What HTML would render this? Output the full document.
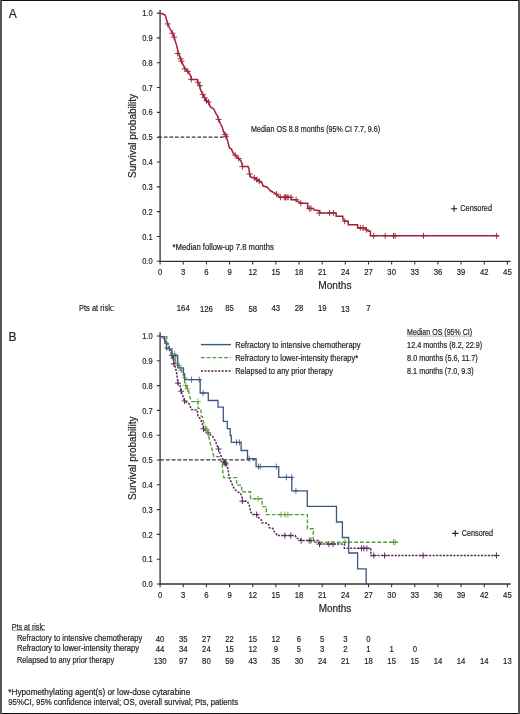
<!DOCTYPE html>
<html><head><meta charset="utf-8"><style>
html,body{margin:0;padding:0;background:#fff;}
svg{display:block;filter:blur(0.3px);}
text{font-family:"Liberation Sans",sans-serif;fill:#231f20;stroke:#231f20;stroke-width:0.2px;}
</style></head><body>
<svg width="520" height="714" viewBox="0 0 520 714">
<rect x="0" y="0" width="520" height="714" fill="#fff"/>

<text x="8.80" y="17.90" font-size="12">A</text>
<path d="M160.1 10V261.3" stroke="#4a4a4a" stroke-width="1.5" fill="none"/>
<path d="M159.3 261.3H510.7" stroke="#333" stroke-width="1.3" fill="none"/>
<path d="M156.8 261.30H160M156.8 236.48H160M156.8 211.66H160M156.8 186.84H160M156.8 162.02H160M156.8 137.20H160M156.8 112.38H160M156.8 87.56H160M156.8 62.74H160M156.8 37.92H160M156.8 13.10H160M160.10 261.3v3.2M183.25 261.3v3.2M206.41 261.3v3.2M229.56 261.3v3.2M252.72 261.3v3.2M275.87 261.3v3.2M299.02 261.3v3.2M322.18 261.3v3.2M345.33 261.3v3.2M368.49 261.3v3.2M391.64 261.3v3.2M414.79 261.3v3.2M437.95 261.3v3.2M461.10 261.3v3.2M484.26 261.3v3.2M507.41 261.3v3.2" stroke="#333" stroke-width="1.1" fill="none"/>
<text x="152.60" y="264.40" font-size="9" text-anchor="end" textLength="10.4" lengthAdjust="spacingAndGlyphs">0.0</text>
<text x="152.60" y="239.58" font-size="9" text-anchor="end" textLength="10.4" lengthAdjust="spacingAndGlyphs">0.1</text>
<text x="152.60" y="214.76" font-size="9" text-anchor="end" textLength="10.4" lengthAdjust="spacingAndGlyphs">0.2</text>
<text x="152.60" y="189.94" font-size="9" text-anchor="end" textLength="10.4" lengthAdjust="spacingAndGlyphs">0.3</text>
<text x="152.60" y="165.12" font-size="9" text-anchor="end" textLength="10.4" lengthAdjust="spacingAndGlyphs">0.4</text>
<text x="152.60" y="140.30" font-size="9" text-anchor="end" textLength="10.4" lengthAdjust="spacingAndGlyphs">0.5</text>
<text x="152.60" y="115.48" font-size="9" text-anchor="end" textLength="10.4" lengthAdjust="spacingAndGlyphs">0.6</text>
<text x="152.60" y="90.66" font-size="9" text-anchor="end" textLength="10.4" lengthAdjust="spacingAndGlyphs">0.7</text>
<text x="152.60" y="65.84" font-size="9" text-anchor="end" textLength="10.4" lengthAdjust="spacingAndGlyphs">0.8</text>
<text x="152.60" y="41.02" font-size="9" text-anchor="end" textLength="10.4" lengthAdjust="spacingAndGlyphs">0.9</text>
<text x="152.60" y="16.20" font-size="9" text-anchor="end" textLength="10.4" lengthAdjust="spacingAndGlyphs">1.0</text>
<text x="160.10" y="274.80" font-size="9" text-anchor="middle" textLength="4.3" lengthAdjust="spacingAndGlyphs">0</text>
<text x="183.25" y="274.80" font-size="9" text-anchor="middle" textLength="4.3" lengthAdjust="spacingAndGlyphs">3</text>
<text x="206.41" y="274.80" font-size="9" text-anchor="middle" textLength="4.3" lengthAdjust="spacingAndGlyphs">6</text>
<text x="229.56" y="274.80" font-size="9" text-anchor="middle" textLength="4.3" lengthAdjust="spacingAndGlyphs">9</text>
<text x="252.72" y="274.80" font-size="9" text-anchor="middle" textLength="8.6" lengthAdjust="spacingAndGlyphs">12</text>
<text x="275.87" y="274.80" font-size="9" text-anchor="middle" textLength="8.6" lengthAdjust="spacingAndGlyphs">15</text>
<text x="299.02" y="274.80" font-size="9" text-anchor="middle" textLength="8.6" lengthAdjust="spacingAndGlyphs">18</text>
<text x="322.18" y="274.80" font-size="9" text-anchor="middle" textLength="8.6" lengthAdjust="spacingAndGlyphs">21</text>
<text x="345.33" y="274.80" font-size="9" text-anchor="middle" textLength="8.6" lengthAdjust="spacingAndGlyphs">24</text>
<text x="368.49" y="274.80" font-size="9" text-anchor="middle" textLength="8.6" lengthAdjust="spacingAndGlyphs">27</text>
<text x="391.64" y="274.80" font-size="9" text-anchor="middle" textLength="8.6" lengthAdjust="spacingAndGlyphs">30</text>
<text x="414.79" y="274.80" font-size="9" text-anchor="middle" textLength="8.6" lengthAdjust="spacingAndGlyphs">33</text>
<text x="437.95" y="274.80" font-size="9" text-anchor="middle" textLength="8.6" lengthAdjust="spacingAndGlyphs">36</text>
<text x="461.10" y="274.80" font-size="9" text-anchor="middle" textLength="8.6" lengthAdjust="spacingAndGlyphs">39</text>
<text x="484.26" y="274.80" font-size="9" text-anchor="middle" textLength="8.6" lengthAdjust="spacingAndGlyphs">42</text>
<text x="507.41" y="274.80" font-size="9" text-anchor="middle" textLength="8.6" lengthAdjust="spacingAndGlyphs">45</text>
<text x="0" y="0" font-size="10" transform="translate(136.2 178) rotate(-90)" textLength="84" lengthAdjust="spacingAndGlyphs">Survival probability</text>
<text x="318.30" y="289.20" font-size="10" textLength="33.2" lengthAdjust="spacingAndGlyphs">Months</text>
<text x="79.00" y="310.70" font-size="8.6" textLength="35.0" lengthAdjust="spacingAndGlyphs">Pts at risk:</text>
<text x="183.25" y="310.60" font-size="9" text-anchor="middle" textLength="12.9" lengthAdjust="spacingAndGlyphs">164</text>
<text x="206.41" y="311.50" font-size="9" text-anchor="middle" textLength="12.9" lengthAdjust="spacingAndGlyphs">126</text>
<text x="229.56" y="310.60" font-size="9" text-anchor="middle" textLength="8.6" lengthAdjust="spacingAndGlyphs">85</text>
<text x="252.72" y="311.50" font-size="9" text-anchor="middle" textLength="8.6" lengthAdjust="spacingAndGlyphs">58</text>
<text x="275.87" y="311.00" font-size="9" text-anchor="middle" textLength="8.6" lengthAdjust="spacingAndGlyphs">43</text>
<text x="299.02" y="311.20" font-size="9" text-anchor="middle" textLength="8.6" lengthAdjust="spacingAndGlyphs">28</text>
<text x="322.18" y="311.20" font-size="9" text-anchor="middle" textLength="8.6" lengthAdjust="spacingAndGlyphs">19</text>
<text x="345.33" y="311.50" font-size="9" text-anchor="middle" textLength="8.6" lengthAdjust="spacingAndGlyphs">13</text>
<text x="368.49" y="310.60" font-size="9" text-anchor="middle" textLength="4.3" lengthAdjust="spacingAndGlyphs">7</text>
<text x="251.00" y="132.10" font-size="8.6" textLength="129.2" lengthAdjust="spacingAndGlyphs">Median OS 8.8 months (95% CI 7.7, 9.6)</text>
<text x="172.50" y="249.60" font-size="8.6" textLength="101.3" lengthAdjust="spacingAndGlyphs">*Median follow-up 7.8 months</text>
<path d="M450.9 208.7h6.4M454.1 205.6v6.2" stroke="#231f20" stroke-width="1.1" fill="none"/>
<text x="460.30" y="210.80" font-size="8.6" textLength="31.7" lengthAdjust="spacingAndGlyphs">Censored</text>
<path d="M158.2 137.2H226" stroke="#333" stroke-width="1.3" stroke-dasharray="3.7 1.9" fill="none"/>
<polyline points="160.2,13.2 162.3,13.8 164.2,14.5 165.4,15.7 166.0,17.2 166.2,18.8 166.9,21.1 167.7,23.8 170.0,28.8 172.3,32.6 174.2,37.2 175.0,40.3 176.2,44.1 177.3,48.0 177.8,51.1 179.6,55.9 180.6,58.8 181.5,61.2 183.5,65.5 184.9,68.9 187.8,71.3 189.7,74.1 191.2,77.0 191.2,79.4 197.4,79.4 197.9,82.3 199.8,85.7 200.3,89.1 202.7,94.4 204.6,97.8 206.5,100.7 208.5,102.1 210.4,106.9 213.8,108.9 215.7,113.2 217.6,116.1 218.6,119.4 220.5,123.8 222.4,127.6 223.4,131.5 225.1,134.4 226.5,136.8 228.0,142.6 229.4,147.9 231.3,148.9 233.3,153.2 235.2,155.1 238.6,158.5 241.0,160.9 242.4,164.7 242.4,166.6 248.0,166.6 249.1,169.1 249.6,174.0 251.0,177.3 254.4,177.8 256.8,179.7 259.2,181.2 262.1,183.1 263.1,186.0 266.9,186.9 268.8,188.9 270.3,190.8 273.2,192.2 276.5,194.1 278.9,196.1 279.4,197.3 291.0,197.3 291.5,199.7 296.1,199.7 296.7,200.9 298.5,201.4 300.2,203.2 307.7,203.2 307.7,208.4 313.4,208.4 314.0,210.1 319.8,210.7 319.8,213.0 336.1,213.0 336.1,216.2 342.8,216.2 342.8,218.9 345.0,221.2 348.2,221.2 348.2,224.8 357.6,224.8 357.6,227.9 365.7,227.9 366.3,229.2 368.4,231.3 370.4,231.3 370.4,235.8 499.0,235.8" fill="none" stroke="#9e2238" stroke-width="1.5" stroke-linejoin="miter"/>
<path d="M164.7 23.9h6.0M167.7 20.9v6.0M169.3 33.2h6.0M172.3 30.2v6.0M171.2 37.2h6.0M174.2 34.2v6.0M174.7 53.5h6.0M177.7 50.5v6.0M177.6 58.8h6.0M180.6 55.8v6.0M178.5 61.2h6.0M181.5 58.2v6.0M181.9 68.9h6.0M184.9 65.9v6.0M184.8 71.3h6.0M187.8 68.3v6.0M188.2 79.4h6.0M191.2 76.4v6.0M194.9 82.3h6.0M197.9 79.3v6.0M196.8 85.7h6.0M199.8 82.7v6.0M199.7 94.4h6.0M202.7 91.4v6.0M201.6 97.8h6.0M204.6 94.8v6.0M203.5 100.7h6.0M206.5 97.7v6.0M205.5 102.1h6.0M208.5 99.1v6.0M215.6 119.4h6.0M218.6 116.4v6.0M222.1 134.4h6.0M225.1 131.4v6.0M223.0 136.3h6.0M226.0 133.3v6.0M232.2 155.1h6.0M235.2 152.1v6.0M235.6 158.5h6.0M238.6 155.5v6.0M239.4 166.6h6.0M242.4 163.6v6.0M246.6 174.0h6.0M249.6 171.0v6.0M251.4 177.8h6.0M254.4 174.8v6.0M253.8 179.7h6.0M256.8 176.7v6.0M256.2 181.2h6.0M259.2 178.2v6.0M273.5 194.1h6.0M276.5 191.1v6.0M277.4 197.3h6.0M280.4 194.3v6.0M281.2 197.3h6.0M284.2 194.3v6.0M282.5 197.3h6.0M285.5 194.3v6.0M284.0 197.3h6.0M287.0 194.3v6.0M285.1 197.3h6.0M288.1 194.3v6.0M288.0 197.3h6.0M291.0 194.3v6.0M293.1 199.7h6.0M296.1 196.7v6.0M297.8 203.2h6.0M300.8 200.2v6.0M306.4 208.4h6.0M309.4 205.4v6.0M308.0 208.4h6.0M311.0 205.4v6.0M316.2 213.0h6.0M319.2 210.0v6.0M326.6 213.0h6.0M329.6 210.0v6.0M330.4 213.0h6.0M333.4 210.0v6.0M341.8 221.2h6.0M344.8 218.2v6.0M357.3 227.9h6.0M360.3 224.9v6.0M360.0 227.9h6.0M363.0 224.9v6.0M363.3 229.8h6.0M366.3 226.8v6.0M370.7 235.8h6.0M373.7 232.8v6.0M382.2 235.8h6.0M385.2 232.8v6.0M390.5 235.8h6.0M393.5 232.8v6.0M392.1 235.8h6.0M395.1 232.8v6.0M420.5 235.8h6.0M423.5 232.8v6.0M493.6 235.8h6.0M496.6 232.8v6.0" stroke="#9e2238" stroke-width="0.95" fill="none"/>
<text x="8.60" y="340.60" font-size="12">B</text>
<path d="M160.1 332.3V584" stroke="#4a4a4a" stroke-width="1.5" fill="none"/>
<path d="M159.3 584H510.7" stroke="#333" stroke-width="1.3" fill="none"/>
<path d="M156.8 584.00H160M156.8 559.20H160M156.8 534.40H160M156.8 509.60H160M156.8 484.80H160M156.8 460.00H160M156.8 435.20H160M156.8 410.40H160M156.8 385.60H160M156.8 360.80H160M156.8 336.00H160M160.10 584v3.2M183.25 584v3.2M206.41 584v3.2M229.56 584v3.2M252.72 584v3.2M275.87 584v3.2M299.02 584v3.2M322.18 584v3.2M345.33 584v3.2M368.49 584v3.2M391.64 584v3.2M414.79 584v3.2M437.95 584v3.2M461.10 584v3.2M484.26 584v3.2M507.41 584v3.2" stroke="#333" stroke-width="1.1" fill="none"/>
<text x="152.60" y="587.10" font-size="9" text-anchor="end" textLength="10.4" lengthAdjust="spacingAndGlyphs">0.0</text>
<text x="152.60" y="562.30" font-size="9" text-anchor="end" textLength="10.4" lengthAdjust="spacingAndGlyphs">0.1</text>
<text x="152.60" y="537.50" font-size="9" text-anchor="end" textLength="10.4" lengthAdjust="spacingAndGlyphs">0.2</text>
<text x="152.60" y="512.70" font-size="9" text-anchor="end" textLength="10.4" lengthAdjust="spacingAndGlyphs">0.3</text>
<text x="152.60" y="487.90" font-size="9" text-anchor="end" textLength="10.4" lengthAdjust="spacingAndGlyphs">0.4</text>
<text x="152.60" y="463.10" font-size="9" text-anchor="end" textLength="10.4" lengthAdjust="spacingAndGlyphs">0.5</text>
<text x="152.60" y="438.30" font-size="9" text-anchor="end" textLength="10.4" lengthAdjust="spacingAndGlyphs">0.6</text>
<text x="152.60" y="413.50" font-size="9" text-anchor="end" textLength="10.4" lengthAdjust="spacingAndGlyphs">0.7</text>
<text x="152.60" y="388.70" font-size="9" text-anchor="end" textLength="10.4" lengthAdjust="spacingAndGlyphs">0.8</text>
<text x="152.60" y="363.90" font-size="9" text-anchor="end" textLength="10.4" lengthAdjust="spacingAndGlyphs">0.9</text>
<text x="152.60" y="339.10" font-size="9" text-anchor="end" textLength="10.4" lengthAdjust="spacingAndGlyphs">1.0</text>
<text x="160.10" y="597.70" font-size="9" text-anchor="middle" textLength="4.3" lengthAdjust="spacingAndGlyphs">0</text>
<text x="183.25" y="597.70" font-size="9" text-anchor="middle" textLength="4.3" lengthAdjust="spacingAndGlyphs">3</text>
<text x="206.41" y="597.70" font-size="9" text-anchor="middle" textLength="4.3" lengthAdjust="spacingAndGlyphs">6</text>
<text x="229.56" y="597.70" font-size="9" text-anchor="middle" textLength="4.3" lengthAdjust="spacingAndGlyphs">9</text>
<text x="252.72" y="597.70" font-size="9" text-anchor="middle" textLength="8.6" lengthAdjust="spacingAndGlyphs">12</text>
<text x="275.87" y="597.70" font-size="9" text-anchor="middle" textLength="8.6" lengthAdjust="spacingAndGlyphs">15</text>
<text x="299.02" y="597.70" font-size="9" text-anchor="middle" textLength="8.6" lengthAdjust="spacingAndGlyphs">18</text>
<text x="322.18" y="597.70" font-size="9" text-anchor="middle" textLength="8.6" lengthAdjust="spacingAndGlyphs">21</text>
<text x="345.33" y="597.70" font-size="9" text-anchor="middle" textLength="8.6" lengthAdjust="spacingAndGlyphs">24</text>
<text x="368.49" y="597.70" font-size="9" text-anchor="middle" textLength="8.6" lengthAdjust="spacingAndGlyphs">27</text>
<text x="391.64" y="597.70" font-size="9" text-anchor="middle" textLength="8.6" lengthAdjust="spacingAndGlyphs">30</text>
<text x="414.79" y="597.70" font-size="9" text-anchor="middle" textLength="8.6" lengthAdjust="spacingAndGlyphs">33</text>
<text x="437.95" y="597.70" font-size="9" text-anchor="middle" textLength="8.6" lengthAdjust="spacingAndGlyphs">36</text>
<text x="461.10" y="597.70" font-size="9" text-anchor="middle" textLength="8.6" lengthAdjust="spacingAndGlyphs">39</text>
<text x="484.26" y="597.70" font-size="9" text-anchor="middle" textLength="8.6" lengthAdjust="spacingAndGlyphs">42</text>
<text x="507.41" y="597.70" font-size="9" text-anchor="middle" textLength="8.6" lengthAdjust="spacingAndGlyphs">45</text>
<text x="0" y="0" font-size="10" transform="translate(136.2 500) rotate(-90)" textLength="83.5" lengthAdjust="spacingAndGlyphs">Survival probability</text>
<text x="318.70" y="611.70" font-size="10" textLength="32.6" lengthAdjust="spacingAndGlyphs">Months</text>
<path d="M160.2 459.9H255" stroke="#333" stroke-width="1.3" stroke-dasharray="3.8 1.95" fill="none"/>
<polyline points="160.0,336.5 161.6,336.8 162.8,338.2 164.7,338.7 165.7,340.6 167.6,343.0 169.0,345.4 169.5,349.3 170.5,351.7 171.5,354.1 172.4,357.0 173.8,360.4 174.6,364.4 175.4,367.7 176.2,370.8 177.3,377.7 178.0,383.1 180.0,385.4 181.2,391.2 183.0,396.4 184.6,401.0 189.2,403.9 191.5,409.6 197.3,410.2 197.9,416.0 200.2,418.9 202.3,423.1 203.5,428.9 208.1,432.9 212.7,436.4 215.0,440.4 218.5,449.0 220.8,455.4 223.1,460.0 225.8,463.5 227.8,468.1 228.5,471.9 228.9,475.8 229.7,478.9 231.2,481.9 232.8,485.8 234.3,488.9 237.4,491.9 240.1,492.7 241.2,495.0 242.4,498.9 242.4,501.2 247.3,501.2 249.3,505.2 250.7,511.9 252.7,514.6 256.7,514.6 258.5,517.5 261.3,519.8 261.9,522.7 267.7,523.3 269.4,525.6 269.4,527.9 272.9,528.5 274.0,531.4 276.3,533.7 276.9,535.6 295.4,535.6 296.5,538.3 300.6,539.4 301.1,540.6 318.8,540.6 318.8,544.1 344.4,544.1 344.4,548.3 370.8,548.3 370.8,555.5 499.2,555.5" fill="none" stroke="#56245a" stroke-width="1.5" stroke-linejoin="miter" stroke-dasharray="2.1 1.35"/>
<path d="M169.0 355.4h6.0M172.0 352.4v6.0M170.5 358.1h6.0M173.5 355.1v6.0M170.8 363.9h6.0M173.8 360.9v6.0M175.0 383.1h6.0M178.0 380.1v6.0M178.2 391.2h6.0M181.2 388.2v6.0M181.6 401.0h6.0M184.6 398.0v6.0M200.5 428.9h6.0M203.5 425.9v6.0M205.1 432.9h6.0M208.1 429.9v6.0M215.5 449.0h6.0M218.5 446.0v6.0M220.8 461.9h6.0M223.8 458.9v6.0M221.8 462.9h6.0M224.8 459.9v6.0M222.8 463.9h6.0M225.8 460.9v6.0M239.4 501.2h6.0M242.4 498.2v6.0M253.7 514.6h6.0M256.7 511.6v6.0M281.8 535.6h6.0M284.8 532.6v6.0M287.8 535.6h6.0M290.8 532.6v6.0M298.1 540.6h6.0M301.1 537.6v6.0M306.2 540.6h6.0M309.2 537.6v6.0M308.0 540.6h6.0M311.0 537.6v6.0M316.5 544.1h6.0M319.5 541.1v6.0M325.9 544.1h6.0M328.9 541.1v6.0M330.0 544.1h6.0M333.0 541.1v6.0M358.5 548.3h6.0M361.5 545.3v6.0M360.8 548.3h6.0M363.8 545.3v6.0M363.9 548.3h6.0M366.9 545.3v6.0M370.8 555.5h6.0M373.8 552.5v6.0M381.6 555.5h6.0M384.6 552.5v6.0M420.1 555.5h6.0M423.1 552.5v6.0M493.5 555.5h6.0M496.5 552.5v6.0" stroke="#56245a" stroke-width="0.95" fill="none"/>
<polyline points="160.0,336.6 166.7,336.6 166.7,342.4 167.6,347.8 171.5,350.2 171.5,354.1 175.4,354.6 175.4,361.6 179.2,365.4 181.2,370.1 183.0,373.9 184.6,377.8 184.6,381.9 185.8,385.4 187.5,388.9 188.7,391.2 189.8,396.9 191.5,401.6 197.9,401.6 197.9,408.4 200.8,408.4 201.3,416.6 202.5,416.6 203.1,421.2 204.8,425.8 206.9,429.4 208.7,436.4 210.4,443.3 212.1,449.6 213.8,456.6 219.6,456.6 220.8,461.2 222.4,464.6 222.4,468.9 223.7,477.6 236.6,477.6 236.6,485.1 241.6,485.1 241.6,491.8 250.5,491.8 250.5,498.8 262.1,498.8 262.1,506.6 266.3,506.6 266.3,514.6 307.4,514.6 307.4,528.7 313.3,528.7 313.3,542.2 397.7,542.2" fill="none" stroke="#559c3a" stroke-width="1.4" stroke-linejoin="miter" stroke-dasharray="3.8 2"/>
<path d="M163.8 348.1h5.6M166.6 345.1v6.0M171.8 353.9h5.6M174.6 350.9v6.0M176.4 365.4h5.6M179.2 362.4v6.0M178.4 370.1h5.6M181.2 367.1v6.0M181.8 377.8h5.6M184.6 374.8v6.0M183.0 385.4h5.6M185.8 382.4v6.0M184.7 388.9h5.6M187.5 385.9v6.0M195.1 401.6h5.6M197.9 398.6v6.0M204.1 429.4h5.6M206.9 426.4v6.0M255.3 498.8h5.6M258.1 495.8v6.0M278.2 514.6h5.6M281.0 511.6v6.0M282.2 514.6h5.6M285.0 511.6v6.0M285.1 514.6h5.6M287.9 511.6v6.0M342.2 542.2h5.6M345.0 539.2v6.0M390.7 542.2h5.6M393.5 539.2v6.0M392.3 542.2h5.6M395.1 539.2v6.0" stroke="#559c3a" stroke-width="0.85" fill="none"/>
<polyline points="160.0,336.6 164.7,336.6 164.7,343.1 166.4,343.1 166.4,348.9 171.9,348.9 171.9,355.5 177.7,355.5 177.7,367.8 183.5,367.8 183.5,373.7 184.6,373.7 184.6,379.7 200.2,379.7 200.2,393.0 208.3,393.0 208.3,400.5 218.0,400.5 218.0,407.2 223.3,407.2 223.3,421.3 227.3,421.3 227.3,428.6 230.2,428.6 230.2,435.5 231.3,435.5 231.3,442.4 241.1,442.4 241.1,450.5 247.5,450.5 247.5,458.6 256.1,458.6 256.1,466.6 278.7,466.6 278.7,477.3 291.8,477.3 291.8,490.8 307.3,490.8 307.3,506.3 336.5,506.3 336.5,522.0 342.4,522.0 342.4,537.5 348.7,537.5 348.7,553.0 357.6,553.0 357.6,568.9 366.2,568.9 366.2,584.5" fill="none" stroke="#3b5787" stroke-width="1.3" stroke-linejoin="miter"/>
<path d="M188.9 379.7h5.2M191.5 376.7v6.0M196.6 379.7h5.2M199.2 376.7v6.0M200.5 393.0h5.2M203.1 390.0v6.0M233.9 442.4h5.2M236.5 439.4v6.0M236.8 442.4h5.2M239.4 439.4v6.0M246.6 458.6h5.2M249.2 455.6v6.0M255.8 466.6h5.2M258.4 463.6v6.0M257.6 466.6h5.2M260.2 463.6v6.0M273.7 466.6h5.2M276.3 463.6v6.0M283.8 477.3h5.2M286.4 474.3v6.0M289.2 477.3h5.2M291.8 474.3v6.0M293.3 490.8h5.2M295.9 487.8v6.0" stroke="#3b5787" stroke-width="0.85" fill="none"/>
<path d="M200.9 344.6H231" stroke="#3b5787" stroke-width="1.4" fill="none"/>
<path d="M200.9 357.6H231" stroke="#559c3a" stroke-width="1.4" stroke-dasharray="3.8 2" fill="none"/>
<path d="M200.9 371H231" stroke="#56245a" stroke-width="1.35" stroke-dasharray="2.1 1.35" fill="none"/>
<text x="235.20" y="347.50" font-size="8.6" textLength="125.4" lengthAdjust="spacingAndGlyphs">Refractory to intensive chemotherapy</text>
<text x="235.20" y="360.90" font-size="8.6" textLength="123.0" lengthAdjust="spacingAndGlyphs">Refractory to lower-intensity therapy*</text>
<text x="235.20" y="374.00" font-size="8.6" textLength="97.8" lengthAdjust="spacingAndGlyphs">Relapsed to any prior therapy</text>
<text x="407.10" y="335.30" font-size="8.6" textLength="65.0" lengthAdjust="spacingAndGlyphs">Median OS (95% CI)</text>
<path d="M407.1 336.1H472.5" stroke="#777" stroke-width="0.6" fill="none"/>
<text x="407.10" y="347.50" font-size="8.6" textLength="75.2" lengthAdjust="spacingAndGlyphs">12.4 months (8.2, 22.9)</text>
<text x="407.10" y="361.20" font-size="8.6" textLength="70.6" lengthAdjust="spacingAndGlyphs">8.0 months (5.6, 11.7)</text>
<text x="407.10" y="374.40" font-size="8.6" textLength="66.6" lengthAdjust="spacingAndGlyphs">8.1 months (7.0, 9.3)</text>
<path d="M452.1 533.4h6.4M455.3 530.3v6.2" stroke="#231f20" stroke-width="1.1" fill="none"/>
<text x="461.80" y="535.70" font-size="8.6" textLength="31.3" lengthAdjust="spacingAndGlyphs">Censored</text>
<text x="11.70" y="630.00" font-size="8.6" textLength="33.3" lengthAdjust="spacingAndGlyphs">Pts at risk:</text>
<path d="M11.7 630.4H45" stroke="#666" stroke-width="0.6" fill="none"/>
<text x="16.90" y="641.20" font-size="8.6" textLength="125.3" lengthAdjust="spacingAndGlyphs">Refractory to intensive chemotherapy</text>
<text x="160.10" y="641.80" font-size="9" text-anchor="middle" textLength="8.6" lengthAdjust="spacingAndGlyphs">40</text>
<text x="183.25" y="641.80" font-size="9" text-anchor="middle" textLength="8.6" lengthAdjust="spacingAndGlyphs">35</text>
<text x="206.41" y="641.80" font-size="9" text-anchor="middle" textLength="8.6" lengthAdjust="spacingAndGlyphs">27</text>
<text x="229.56" y="641.80" font-size="9" text-anchor="middle" textLength="8.6" lengthAdjust="spacingAndGlyphs">22</text>
<text x="252.72" y="641.80" font-size="9" text-anchor="middle" textLength="8.6" lengthAdjust="spacingAndGlyphs">15</text>
<text x="275.87" y="641.80" font-size="9" text-anchor="middle" textLength="8.6" lengthAdjust="spacingAndGlyphs">12</text>
<text x="299.02" y="641.80" font-size="9" text-anchor="middle" textLength="4.3" lengthAdjust="spacingAndGlyphs">6</text>
<text x="322.18" y="641.80" font-size="9" text-anchor="middle" textLength="4.3" lengthAdjust="spacingAndGlyphs">5</text>
<text x="345.33" y="641.80" font-size="9" text-anchor="middle" textLength="4.3" lengthAdjust="spacingAndGlyphs">3</text>
<text x="368.49" y="641.80" font-size="9" text-anchor="middle" textLength="4.3" lengthAdjust="spacingAndGlyphs">0</text>
<text x="16.90" y="651.30" font-size="8.6" textLength="122.1" lengthAdjust="spacingAndGlyphs">Refractory to lower-intensity therapy</text>
<text x="160.10" y="651.90" font-size="9" text-anchor="middle" textLength="8.6" lengthAdjust="spacingAndGlyphs">44</text>
<text x="183.25" y="651.90" font-size="9" text-anchor="middle" textLength="8.6" lengthAdjust="spacingAndGlyphs">34</text>
<text x="206.41" y="651.90" font-size="9" text-anchor="middle" textLength="8.6" lengthAdjust="spacingAndGlyphs">24</text>
<text x="229.56" y="651.90" font-size="9" text-anchor="middle" textLength="8.6" lengthAdjust="spacingAndGlyphs">15</text>
<text x="252.72" y="651.90" font-size="9" text-anchor="middle" textLength="8.6" lengthAdjust="spacingAndGlyphs">12</text>
<text x="275.87" y="651.90" font-size="9" text-anchor="middle" textLength="4.3" lengthAdjust="spacingAndGlyphs">9</text>
<text x="299.02" y="651.90" font-size="9" text-anchor="middle" textLength="4.3" lengthAdjust="spacingAndGlyphs">5</text>
<text x="322.18" y="651.90" font-size="9" text-anchor="middle" textLength="4.3" lengthAdjust="spacingAndGlyphs">3</text>
<text x="345.33" y="651.90" font-size="9" text-anchor="middle" textLength="4.3" lengthAdjust="spacingAndGlyphs">2</text>
<text x="368.49" y="651.90" font-size="9" text-anchor="middle" textLength="4.3" lengthAdjust="spacingAndGlyphs">1</text>
<text x="391.64" y="651.90" font-size="9" text-anchor="middle" textLength="4.3" lengthAdjust="spacingAndGlyphs">1</text>
<text x="414.79" y="651.90" font-size="9" text-anchor="middle" textLength="4.3" lengthAdjust="spacingAndGlyphs">0</text>
<text x="16.90" y="662.90" font-size="8.6" textLength="97.2" lengthAdjust="spacingAndGlyphs">Relapsed to any prior therapy</text>
<text x="160.10" y="663.50" font-size="9" text-anchor="middle" textLength="12.9" lengthAdjust="spacingAndGlyphs">130</text>
<text x="183.25" y="663.50" font-size="9" text-anchor="middle" textLength="8.6" lengthAdjust="spacingAndGlyphs">97</text>
<text x="206.41" y="663.50" font-size="9" text-anchor="middle" textLength="8.6" lengthAdjust="spacingAndGlyphs">80</text>
<text x="229.56" y="663.50" font-size="9" text-anchor="middle" textLength="8.6" lengthAdjust="spacingAndGlyphs">59</text>
<text x="252.72" y="663.50" font-size="9" text-anchor="middle" textLength="8.6" lengthAdjust="spacingAndGlyphs">43</text>
<text x="275.87" y="663.50" font-size="9" text-anchor="middle" textLength="8.6" lengthAdjust="spacingAndGlyphs">35</text>
<text x="299.02" y="663.50" font-size="9" text-anchor="middle" textLength="8.6" lengthAdjust="spacingAndGlyphs">30</text>
<text x="322.18" y="663.50" font-size="9" text-anchor="middle" textLength="8.6" lengthAdjust="spacingAndGlyphs">24</text>
<text x="345.33" y="663.50" font-size="9" text-anchor="middle" textLength="8.6" lengthAdjust="spacingAndGlyphs">21</text>
<text x="368.49" y="663.50" font-size="9" text-anchor="middle" textLength="8.6" lengthAdjust="spacingAndGlyphs">18</text>
<text x="391.64" y="663.50" font-size="9" text-anchor="middle" textLength="8.6" lengthAdjust="spacingAndGlyphs">15</text>
<text x="414.79" y="663.50" font-size="9" text-anchor="middle" textLength="8.6" lengthAdjust="spacingAndGlyphs">15</text>
<text x="437.95" y="663.50" font-size="9" text-anchor="middle" textLength="8.6" lengthAdjust="spacingAndGlyphs">14</text>
<text x="461.10" y="663.50" font-size="9" text-anchor="middle" textLength="8.6" lengthAdjust="spacingAndGlyphs">14</text>
<text x="484.26" y="663.50" font-size="9" text-anchor="middle" textLength="8.6" lengthAdjust="spacingAndGlyphs">14</text>
<text x="507.41" y="663.50" font-size="9" text-anchor="middle" textLength="8.6" lengthAdjust="spacingAndGlyphs">13</text>
<text x="8.25" y="695.10" font-size="8.6" textLength="182.0" lengthAdjust="spacingAndGlyphs">*Hypomethylating agent(s) or low-dose cytarabine</text>
<text x="8.25" y="705.10" font-size="8.6" textLength="229.8" lengthAdjust="spacingAndGlyphs">95%CI, 95% confidence interval; OS, overall survival; Pts, patients</text>
<path d="M0 0.5H520" stroke="#111" stroke-width="1.2"/>
<path d="M0 713.5H520" stroke="#111" stroke-width="1.2"/>
<path d="M1 0V714" stroke="#555" stroke-width="2"/>
<path d="M519 0V714" stroke="#555" stroke-width="2"/>
</svg></body></html>
